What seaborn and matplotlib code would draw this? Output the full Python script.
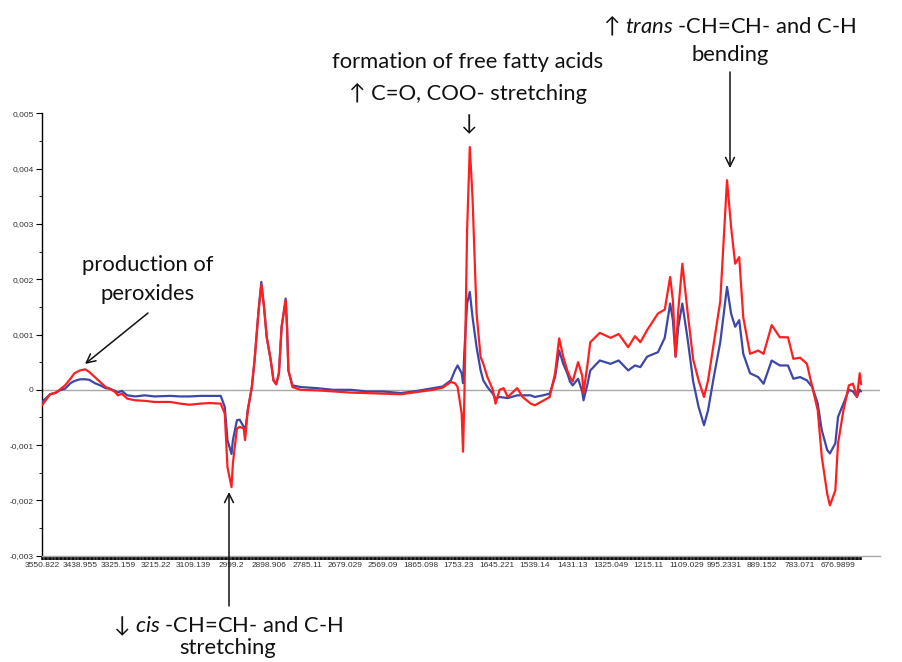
import numpy as np
import pandas as pd
import seaborn as sns
import matplotlib
matplotlib.use("Agg")
import matplotlib.pyplot as plt
from matplotlib.ticker import FixedLocator, FuncFormatter

# ---------------- data ----------------
# sample index along the spectrum (28 samples between tick labels)
sample_idx = [0, 6, 10, 13, 17, 21, 24, 28, 32, 35, 39, 43, 47, 50, 54, 56, 59, 63, 69, 76,
              83, 95, 102, 109, 117, 124, 132, 135, 137, 140, 141, 144, 146, 149, 150, 152,
              155, 157, 160, 162, 164, 166, 169, 171, 173, 175, 177, 180, 181, 182, 185, 191,
              203, 215, 228, 240, 252, 265, 277, 289, 296, 302, 305, 307, 310, 311, 312, 314,
              316, 318, 321, 324, 326, 329, 333, 335, 338, 341, 344, 351, 355, 361, 364, 370,
              375, 379, 382, 385, 388, 390, 392, 396, 399, 400, 403, 405, 412, 420, 426, 433,
              438, 442, 447, 455, 460, 464, 466, 468, 470, 473, 477, 481, 485, 489, 492, 496,
              501, 506, 509, 512, 515, 518, 523, 529, 533, 539, 545, 551, 555, 560, 565, 569,
              573, 576, 580, 582, 586, 588, 592, 596, 599, 602, 604, 605]

red_values = [-0.00028, -0.00008, -0.00005, 0.0, 0.00008, 0.0002, 0.0003, 0.00035, 0.00037, 0.00032,
              0.00023, 0.00014, 0.00005, 0.00002, -0.00004, -0.0001, -0.00007, -0.00016, -0.00019, -0.0002,
              -0.00022, -0.00022, -0.00025, -0.00027, -0.00025, -0.00024, -0.00025, -0.00043, -0.0014, -0.00176,
              -0.00133, -0.0007, -0.00067, -0.0007, -0.00091, -0.00037, 0.00005, 0.00053, 0.00144, 0.0019,
              0.0015, 0.00095, 0.00053, 0.00017, 0.0001, 0.0003, 0.00114, 0.00162, 0.00114, 0.00035,
              0.00005, 0.0, -0.00001, -0.00003, -0.00005, -0.00006, -0.00007, -0.00008, -0.00004, 0.0,
              0.00004, 0.00014, 0.00012, 0.00005, -0.00043, -0.00112, -0.00013, 0.00288, 0.00439, 0.00348,
              0.00138, 0.00059, 0.00047, 0.00023, 0.0, -0.00025, 0.0, 0.00003, -0.00013, 0.00003,
              -0.00013, -0.00025, -0.00028, -0.0002, -0.00013, 0.0003, 0.00093, 0.0006, 0.00035, 0.00023,
              0.00015, 0.0005, 0.00026, -0.00006, 0.00047, 0.00086, 0.00103, 0.00094, 0.00101, 0.00077,
              0.00097, 0.00086, 0.00108, 0.00138, 0.00145, 0.00204, 0.00162, 0.0006, 0.00144, 0.00228,
              0.00138, 0.00055, 0.00017, -0.00013, 0.00017, 0.0008, 0.0016, 0.00379, 0.00295, 0.00228,
              0.0024, 0.00131, 0.00065, 0.00071, 0.00065, 0.00117, 0.00095, 0.00095, 0.00056, 0.00058,
              0.00047, 0.00005, -0.00037, -0.00121, -0.00188, -0.00209, -0.00182, -0.00097, -0.00037, 0.00008,
              0.00011, -0.00013, 0.0003, 0.0001]

blue_values = [-0.00022, -0.00008, -0.00006, -0.00001, 0.00002, 0.00012, 0.00016, 0.00019, 0.00019, 0.00018,
               0.00012, 0.00008, 0.00003, 0.00002, -0.00002, -0.00005, -0.00002, -0.0001, -0.00012, -0.0001,
               -0.00012, -0.00011, -0.00012, -0.00012, -0.00011, -0.00011, -0.00011, -0.00031, -0.00091, -0.00116,
               -0.00091, -0.00055, -0.00054, -0.00067, -0.00076, -0.00037, 0.00005, 0.00053, 0.00144, 0.00195,
               0.0015, 0.00095, 0.00053, 0.00017, 0.0001, 0.0003, 0.00114, 0.00165, 0.00114, 0.00035,
               0.00008, 0.00005, 0.00003, 0.0, 0.0, -0.00003, -0.00003, -0.00006, -0.00002, 0.00003,
               0.00006, 0.00017, 0.00035, 0.00044, 0.0003, 0.00012, 0.0007, 0.00156, 0.00177, 0.00132,
               0.00077, 0.00035, 0.00017, 0.00005, -0.00007, -0.00016, -0.00013, -0.00014, -0.00015, -0.0001,
               -0.0001, -0.0001, -0.00013, -0.0001, -0.00007, 0.00023, 0.00071, 0.00047, 0.0003, 0.00015,
               0.00008, 0.0002, -0.00003, -0.00019, 0.00011, 0.00035, 0.00053, 0.00047, 0.00053, 0.00035,
               0.00044, 0.00041, 0.0006, 0.00068, 0.00094, 0.00156, 0.00126, 0.0006, 0.00114, 0.00156,
               0.0009, 0.00015, -0.00031, -0.00064, -0.00037, 0.0002, 0.00086, 0.00186, 0.00138, 0.00114,
               0.00126, 0.00065, 0.0003, 0.00023, 0.00011, 0.00053, 0.00044, 0.00044, 0.0002, 0.00023,
               0.00017, 0.00005, -0.00025, -0.00073, -0.00109, -0.00115, -0.00097, -0.00049, -0.00025, 0.0,
               -0.00003, -0.00013, 0.0, -0.00003]

tick_labels = ["3550.822", "3438.955", "3325.159", "3215.22", "3109.139", "2999.2", "2898.906",
               "2785.11", "2679.029", "2569.09", "1865.098", "1753.23", "1645.221", "1539.14",
               "1431.13", "1325.049", "1215.11", "1109.029", "995.2331", "889.152", "783.071",
               "676.9899"]
samples_per_label = 28
y_ticks = [-0.003, -0.002, -0.001, 0.0, 0.001, 0.002, 0.003, 0.004, 0.005]

colors = {"red": "#ff1f1f", "blue": "#3d47a8"}

# ---------------- figure ----------------
W, H = 903, 662
sns.set_theme(style="white")
plt.rcParams["font.family"] = ["Lato", "DejaVu Sans"]
plt.rcParams["mathtext.fontset"] = "custom"
plt.rcParams["mathtext.rm"] = "Lato"
plt.rcParams["mathtext.it"] = "Lato:italic"

fig = plt.figure(figsize=(W / 100, H / 100), dpi=100)
ax = fig.add_axes([42 / W, 1 - 555.7 / H, (880 - 42) / W, (555.7 - 113.3) / H])

df = pd.concat([
    pd.DataFrame({"idx": sample_idx, "value": blue_values, "series": "blue"}),
    pd.DataFrame({"idx": sample_idx, "value": red_values, "series": "red"}),
])

ax.axhline(0, color="#a8a8a8", lw=1.0, zorder=1)
sns.lineplot(data=df, x="idx", y="value", hue="series", hue_order=["blue", "red"],
             palette=colors, estimator=None, sort=False, lw=1.6, legend=False, ax=ax, zorder=3)

ax.set_xlim(0, 619)
ax.set_ylim(-0.003, 0.005)
ax.set_xlabel("")
ax.set_ylabel("")

# x axis: category-style ticks on every sample
tick_pos = [i * samples_per_label for i in range(len(tick_labels))]
ax.xaxis.set_major_locator(FixedLocator(tick_pos))
ax.set_xticklabels(tick_labels, fontsize=6.0, color="#333333", family=["Liberation Sans"])
ax.xaxis.set_minor_locator(FixedLocator(list(range(0, sample_idx[-1] + 1))))
ax.tick_params(axis="x", which="both", direction="out", length=3, width=1.1, color="black",
               pad=1.5, bottom=True)

# y axis
ax.yaxis.set_major_locator(FixedLocator(y_ticks))
ax.yaxis.set_minor_locator(FixedLocator(list(np.arange(-0.003, 0.0051, 0.0005))))


def fmt(v, pos):
    if abs(v) < 1e-12:
        return "0"
    return f"{v:.3f}".replace(".", ",")


ax.yaxis.set_major_formatter(FuncFormatter(fmt))
for lab in ax.get_yticklabels():
    lab.set_fontsize(6)
    lab.set_color("#333333")
    lab.set_family(["Liberation Sans"])
ax.tick_params(axis="y", which="major", direction="out", length=4, width=0.8, color="black",
               pad=2, left=True, labelsize=6, labelcolor="#333333")
ax.tick_params(axis="y", which="minor", direction="out", length=2.5, width=0.6, color="black",
               left=True)

for s in ["top", "right"]:
    ax.spines[s].set_visible(False)
ax.spines["left"].set_color("black")
ax.spines["left"].set_linewidth(1.0)
ax.spines["bottom"].set_color("#a8a8a8")
ax.spines["bottom"].set_linewidth(1.0)


# ---------------- annotations (figure-pixel positions, y from top) ----------------
def P(x, y):
    return (x, H - y)


txt_kw = dict(xycoords="figure pixels", ha="center", va="center", fontsize=15.8,
              color="#111111", annotation_clip=False)

ax.annotate("formation of free fatty acids", xy=P(468, 62), **txt_kw)
ax.annotate("↑ C=O, COO- stretching", xy=P(468, 93), **txt_kw)
ax.annotate("↓", xy=P(468, 124), **txt_kw)

ax.annotate(r"↑ $\mathit{trans}$ -CH=CH- and C-H", xy=P(730, 25), **txt_kw)
ax.annotate("bending", xy=P(730, 55), **txt_kw)

ax.annotate("production of", xy=P(148, 265), **txt_kw)
ax.annotate("peroxides", xy=P(148, 294), **txt_kw)

ax.annotate(r"↓ $\mathit{cis}$ -CH=CH- and C-H", xy=P(228, 626), **txt_kw)
ax.annotate("stretching", xy=P(228, 648), **txt_kw)

arrow_kw = dict(xycoords="figure pixels", textcoords="figure pixels", annotation_clip=False,
                arrowprops=dict(arrowstyle="->", color="#111111", lw=1.1,
                                shrinkA=0, shrinkB=0, mutation_scale=16))
ax.annotate("", xy=P(730, 168), xytext=P(730, 72), **arrow_kw)
ax.annotate("", xy=P(85, 364), xytext=P(148, 313), **arrow_kw)
ax.annotate("", xy=P(229, 492), xytext=P(229, 606), **arrow_kw)

fig.savefig("out.png", dpi=100)
